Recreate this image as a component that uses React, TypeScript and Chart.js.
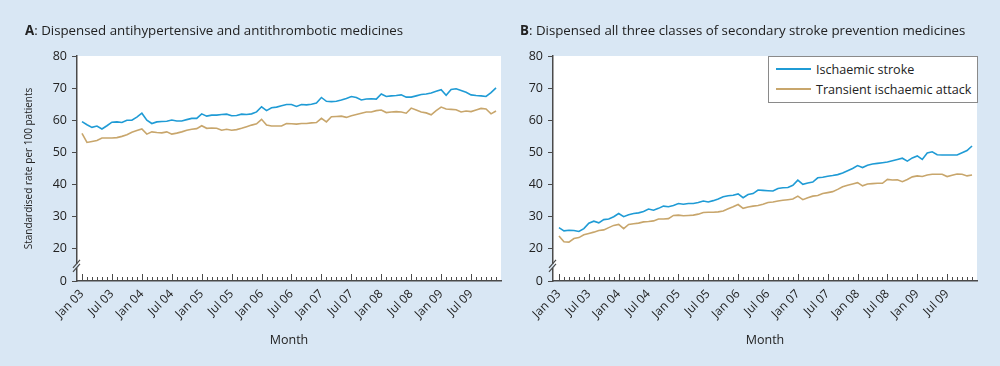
import React, { useEffect, useRef } from 'react';
import { Chart, registerables } from 'chart.js';
Chart.register(...registerables);

// Month index 0 = Jan 2003 ... 83 = Dec 2009
const tickLabels = ['Jan 03', 'Jul 03', 'Jan 04', 'Jul 04', 'Jan 05', 'Jul 05', 'Jan 06', 'Jul 06', 'Jan 07', 'Jul 07', 'Jan 08', 'Jul 08', 'Jan 09', 'Jul 09'];
const seriesNames = ['Ischaemic stroke', 'Transient ischaemic attack'];

const aStroke = [
  59.6, 58.6, 57.8, 58.2, 57.3, 58.3, 59.4, 59.5, 59.3, 60.0, 60.0, 61.0,
  62.2, 60.0, 59.0, 59.5, 59.6, 59.7, 60.1, 59.8, 59.8, 60.2, 60.6, 60.6,
  62.0, 61.3, 61.6, 61.6, 61.8, 61.9, 61.4, 61.5, 61.9, 61.8, 62.0, 62.6,
  64.2, 63.0, 63.9, 64.1, 64.5, 64.9, 64.9, 64.3, 64.9, 64.8, 65.0, 65.4,
  67.1, 65.9, 65.8, 65.9, 66.3, 66.8, 67.4, 67.1, 66.3, 66.6, 66.7, 66.6,
  68.2, 67.4, 67.6, 67.7, 67.9, 67.2, 67.2, 67.6, 68.0, 68.2, 68.5, 69.0,
  69.5, 67.8, 69.6, 69.8, 69.3, 68.7, 67.9, 67.7, 67.6, 67.4, 68.6, 70.1,
];
const aTia = [
  55.9, 53.1, 53.4, 53.7, 54.5, 54.5, 54.5, 54.6, 55.0, 55.5, 56.3, 56.8,
  57.3, 55.7, 56.4, 56.2, 56.1, 56.4, 55.7, 56.0, 56.4, 56.9, 57.2, 57.4,
  58.3, 57.5, 57.6, 57.5, 56.9, 57.2, 56.9, 57.1, 57.5, 58.0, 58.5, 58.9,
  60.3, 58.5, 58.2, 58.2, 58.2, 59.0, 58.9, 58.8, 59.0, 59.0, 59.2, 59.3,
  60.6, 59.5, 61.1, 61.2, 61.3, 60.9, 61.4, 61.8, 62.2, 62.6, 62.6, 63.0,
  63.2, 62.4, 62.6, 62.7, 62.6, 62.2, 63.8, 63.2, 62.6, 62.3, 61.7, 63.0,
  64.1, 63.5, 63.4, 63.3, 62.6, 62.9, 62.7, 63.2, 63.7, 63.5, 62.0, 62.9,
];
const bStroke = [
  26.6, 25.6, 25.8, 25.7, 25.4, 26.3, 28.0, 28.6, 28.1, 29.1, 29.3, 30.0,
  31.0, 30.0, 30.6, 31.0, 31.2, 31.6, 32.4, 32.0, 32.6, 33.3, 33.1, 33.5,
  34.1, 33.9, 34.1, 34.1, 34.4, 34.9, 34.6, 35.0, 35.5, 36.2, 36.5, 36.7,
  37.1, 35.9, 36.9, 37.2, 38.3, 38.2, 38.1, 38.0, 38.8, 39.0, 39.1, 39.8,
  41.4, 40.1, 40.5, 40.8, 42.1, 42.3, 42.6, 42.8, 43.1, 43.6, 44.3, 45.0,
  45.9, 45.3, 46.0, 46.4, 46.6, 46.8, 47.0, 47.4, 47.8, 48.2, 47.3, 48.3,
  48.9, 47.8, 49.8, 50.2, 49.3, 49.2, 49.2, 49.2, 49.2, 49.9, 50.6, 52.0,
];
const bTia = [
  24.0, 22.2, 22.1, 23.2, 23.5, 24.4, 24.8, 25.2, 25.7, 25.9, 26.6, 27.3,
  27.6, 26.3, 27.6, 27.8, 28.0, 28.4, 28.5, 28.7, 29.3, 29.3, 29.4, 30.4,
  30.5, 30.3, 30.4, 30.5, 30.8, 31.3, 31.4, 31.4, 31.5, 31.8, 32.5, 33.1,
  33.8, 32.6, 33.0, 33.3, 33.5, 33.9, 34.4, 34.6, 34.9, 35.1, 35.3, 35.5,
  36.4, 35.3, 35.9, 36.4, 36.6, 37.2, 37.5, 37.8, 38.5, 39.3, 39.8, 40.2,
  40.6, 39.6, 40.2, 40.3, 40.4, 40.4, 41.6, 41.4, 41.5, 40.9, 41.6, 42.4,
  42.7, 42.5, 43.0, 43.2, 43.2, 43.2, 42.5, 42.9, 43.3, 43.2, 42.7, 43.0,
];

const BG = '#d9e7f4';
const BLUE = '#1f9bd5';
const GOLD = '#c8a66c';
const AXIS = '#4a4a4a';
const TEXT = '#222222';
const FONT = '"Open Sans", "DejaVu Sans", sans-serif';

const toPoints = (vals: number[]) => vals.map((v, i) => ({ x: i, y: v }));

const panelPlugin = {
  id: 'panelDecor',
  beforeDraw(chart: any) {
    const { ctx, chartArea } = chart;
    ctx.save();
    ctx.fillStyle = '#ffffff';
    ctx.fillRect(chartArea.left, chartArea.top, chartArea.right - chartArea.left, chartArea.bottom - chartArea.top);
    ctx.restore();
  },
  afterDraw(chart: any) {
    const { ctx, chartArea } = chart;
    const xs = chart.scales.x;
    const ys = chart.scales.y;
    const n = aStroke.length;
    ctx.save();
    ctx.strokeStyle = AXIS;
    ctx.lineWidth = 1;
    const base = chartArea.bottom;
    for (let i = 0; i < n; i++) {
      const px = Math.round(xs.getPixelForValue(i)) + 0.5;
      const len = i % 6 === 0 ? 7 : 4;
      ctx.beginPath();
      ctx.moveTo(px, base);
      ctx.lineTo(px, base - len);
      ctx.stroke();
    }
    // axis break marks between 0 and 20
    const yc = (ys.getPixelForValue(10) + ys.getPixelForValue(20)) / 2 + 1;
    const L = chartArea.left;
    ctx.fillStyle = BG;
    ctx.fillRect(L - 1.5, yc - 2, 3, 4);
    ctx.strokeStyle = AXIS;
    ctx.lineWidth = 1.2;
    ctx.beginPath();
    ctx.moveTo(L - 4, yc + 2);
    ctx.lineTo(L + 3, yc - 6);
    ctx.moveTo(L - 4, yc + 6);
    ctx.lineTo(L + 3, yc - 2);
    ctx.stroke();
    ctx.restore();
  },
};

function makeConfig(stroke: number[], tia: number[], yWidth: number, padRight: number, showYTitle: boolean, xMin: number): any {
  return {
    type: 'line',
    data: {
      datasets: [
        { label: seriesNames[0], data: toPoints(stroke), borderColor: BLUE, borderWidth: 1.6, pointRadius: 0, fill: false, tension: 0 },
        { label: seriesNames[1], data: toPoints(tia), borderColor: GOLD, borderWidth: 1.6, pointRadius: 0, fill: false, tension: 0 },
      ],
    },
    options: {
      responsive: false,
      animation: false,
      devicePixelRatio: 1,
      layout: { padding: { left: 0, right: padRight, top: 56, bottom: 0 } },
      plugins: { legend: { display: false }, tooltip: { enabled: false }, title: { display: false } },
      scales: {
        x: {
          type: 'linear',
          min: xMin,
          max: 84,
          afterFit: (s: any) => { s.height = 85; },
          afterBuildTicks: (s: any) => { s.ticks = tickLabels.map((_, i) => ({ value: i * 6 })); },
          grid: { display: false, drawTicks: false },
          border: { display: true, color: AXIS, width: 1.5 },
          ticks: {
            autoSkip: false,
            minRotation: 45,
            maxRotation: 45,
            padding: 6,
            color: TEXT,
            font: { family: FONT, size: 12 },
            callback: (v: any) => { const k = Number(v) / 6; return tickLabels[k] ?? ''; },
          },
          title: { display: true, text: 'Month', color: TEXT, font: { family: FONT, size: 12.5 }, padding: { top: 0, bottom: 18 } },
        },
        y: {
          type: 'linear',
          min: 10,
          max: 80,
          afterFit: (s: any) => { s.width = yWidth; },
          grid: { drawOnChartArea: false, drawTicks: true, tickLength: 5, color: AXIS, lineWidth: 1 },
          border: { display: true, color: AXIS, width: 1.5 },
          ticks: {
            stepSize: 10,
            padding: 5,
            color: TEXT,
            font: { family: FONT, size: 12.5 },
            callback: (v: any) => (Number(v) === 10 ? '0' : String(v)),
          },
          title: {
            display: showYTitle,
            text: 'Standardised rate per 100 patients',
            color: TEXT,
            font: { family: FONT, size: 10 },
            padding: { top: 23, bottom: 0 },
          },
        },
      },
    },
    plugins: [panelPlugin],
  };
}

export default function App() {
  const refA = useRef<HTMLCanvasElement | null>(null);
  const refB = useRef<HTMLCanvasElement | null>(null);

  useEffect(() => {
    const ca = new Chart(refA.current as HTMLCanvasElement, makeConfig(aStroke, aTia, 77, 9, true, -1));
    const cb = new Chart(refB.current as HTMLCanvasElement, makeConfig(bStroke, bTia, 53, 23, false, -1.2));
    return () => { ca.destroy(); cb.destroy(); };
  }, []);

  const titleStyle: React.CSSProperties = { position: 'absolute', top: 21, fontSize: 13.3, color: TEXT, whiteSpace: 'nowrap', fontFamily: FONT };

  return (
    <div style={{ position: 'absolute', left: 0, top: 0, width: 1000, height: 366, background: BG, overflow: 'hidden', fontFamily: FONT }}>
      <canvas ref={refA} width={510} height={366} style={{ position: 'absolute', left: 0, top: 0 }} />
      <canvas ref={refB} width={500} height={366} style={{ position: 'absolute', left: 500, top: 0 }} />
      <div style={{ ...titleStyle, left: 25 }}><b>A</b>: Dispensed antihypertensive and antithrombotic medicines</div>
      <div style={{ ...titleStyle, left: 520 }}><b>B</b>: Dispensed all three classes of secondary stroke prevention medicines</div>
      <div style={{ position: 'absolute', left: 768, top: 56, width: 208, height: 45, border: '1px solid #8a8a8a', background: '#ffffff', fontSize: 12.6, color: TEXT }}>
        {seriesNames.map((name, i) => (
          <div key={name} style={{ position: 'absolute', left: 7, top: i === 0 ? 2 : 22, height: 20, display: 'flex', alignItems: 'center', whiteSpace: 'nowrap' }}>
            <span style={{ display: 'inline-block', width: 35, height: 2, background: i === 0 ? BLUE : GOLD, marginRight: 5 }} />
            <span>{name}</span>
          </div>
        ))}
      </div>
    </div>
  );
}
